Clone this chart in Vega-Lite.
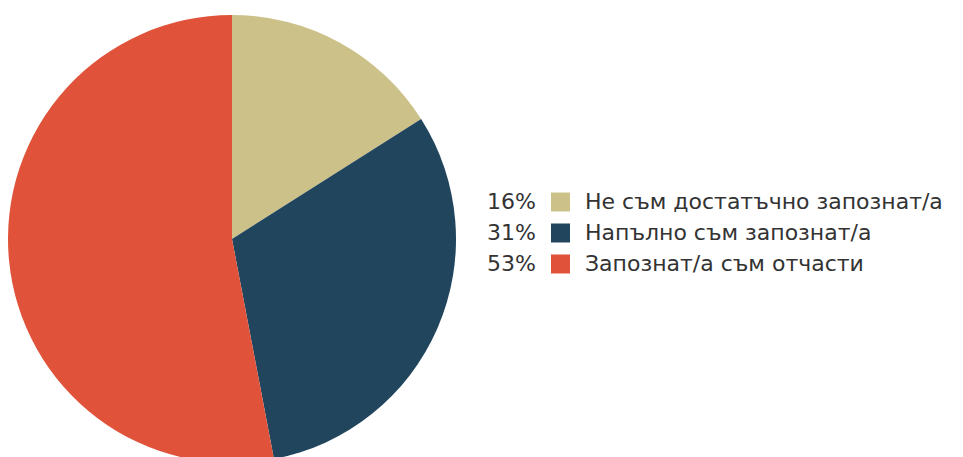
{
  "$schema": "https://vega.github.io/schema/vega-lite/v6.json",
  "background": "white",
  "padding": {"left": 8, "top": 15, "right": 0, "bottom": 0},
  "config": {"view": {"stroke": null}},
  "data": {
    "values": [
      {"label": "Не съм достатъчно запознат/а", "share": 0.16, "order": 1},
      {"label": "Напълно съм запознат/а", "share": 0.31, "order": 2},
      {"label": "Запознат/а съм отчасти", "share": 0.53, "order": 3}
    ]
  },
  "spacing": 31,
  "center": true,
  "hconcat": [
    {
      "width": 448,
      "height": 448,
      "mark": {"type": "arc"},
      "encoding": {
        "theta": {"field": "share", "type": "quantitative", "stack": true},
        "order": {"field": "order", "type": "quantitative"},
        "color": {
          "field": "label",
          "type": "nominal",
          "scale": {
            "domain": ["Не съм достатъчно запознат/а", "Напълно съм запознат/а", "Запознат/а съм отчасти"],
            "range": ["#CDC18A", "#21455D", "#E0533A"]
          },
          "legend": null
        }
      }
    },
    {
      "width": 147,
      "height": 105,
      "encoding": {
        "y": {
          "field": "label",
          "type": "nominal",
          "sort": ["Не съм достатъчно запознат/а", "Напълно съм запознат/а", "Запознат/а съм отчасти"],
          "scale": {"type": "band", "paddingInner": 0, "paddingOuter": 0.194, "align": 0},
          "axis": null
        }
      },
      "layer": [
        {
          "mark": {"type": "text", "align": "right", "baseline": "middle", "font": "DejaVu Sans", "fontSize": 22, "color": "#333333"},
          "encoding": {
            "x": {"datum": "pct", "type": "nominal", "bandPosition": 1, "scale": {"type": "band", "domain": ["pct", "sym", "lab"], "paddingInner": 0, "paddingOuter": 0}, "axis": null},
            "text": {"field": "share", "type": "quantitative", "format": ".0%"}
          }
        },
        {
          "mark": {"type": "point", "shape": "square", "filled": true, "opacity": 1, "size": 361},
          "encoding": {
            "x": {"datum": "sym", "type": "nominal", "bandPosition": 0.5},
            "color": {
              "field": "label",
              "type": "nominal",
              "scale": {
                "domain": ["Не съм достатъчно запознат/а", "Напълно съм запознат/а", "Запознат/а съм отчасти"],
                "range": ["#CDC18A", "#21455D", "#E0533A"]
              },
              "legend": null
            }
          }
        },
        {
          "mark": {"type": "text", "align": "left", "baseline": "middle", "font": "DejaVu Sans", "fontSize": 22, "color": "#333333"},
          "encoding": {
            "x": {"datum": "lab", "type": "nominal", "bandPosition": 0},
            "text": {"field": "label", "type": "nominal"}
          }
        }
      ]
    }
  ]
}
